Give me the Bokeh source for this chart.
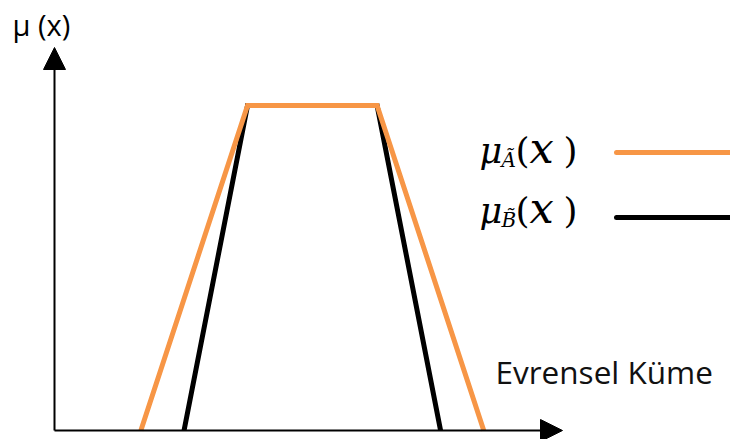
from bokeh.plotting import figure
from bokeh.models import Range1d, Arrow, NormalHead
from bokeh.core.properties import value
from bokeh.embed import file_html
from bokeh.resources import INLINE

# Trapezoidal membership functions on the universal set
universe_a = [1.7, 3.8, 6.35, 8.45]
mu_a = [0.0, 1.0, 1.0, 0.0]
universe_b = [2.55, 3.8, 6.35, 7.6]
mu_b = [0.0, 1.0, 1.0, 0.0]

ORANGE = "#F79646"
W, H = 730, 439

# page layout: origin pixel and pixels per unit on each axis
X0_PX, UNIT_PX = 54, 50.8
Y0_PX, MU_PX = 430, 325


def fx(px):
    return (px - X0_PX) / UNIT_PX


def fy(py):
    return (Y0_PX - py) / MU_PX


p = figure(width=W, height=H, output_backend="svg", toolbar_location=None,
           x_range=Range1d(fx(0), fx(W)), y_range=Range1d(fy(H), fy(0)),
           min_border=0)
p.axis.visible = False
p.grid.visible = False
p.outline_line_color = None
p.background_fill_color = "white"
p.border_fill_color = "white"

# axes with arrow heads
p.add_layout(Arrow(x_start=0, y_start=0, x_end=fx(562), y_end=0,
                   line_width=2, line_color="black",
                   end=NormalHead(size=22, fill_color="black", line_color="black")))
p.add_layout(Arrow(x_start=0, y_start=0, x_end=0, y_end=fy(47),
                   line_width=2, line_color="black",
                   end=NormalHead(size=22, fill_color="black", line_color="black")))

# membership functions
p.line(universe_b, mu_b, line_color="black", line_width=5, line_join="miter")
p.line(universe_a, mu_a, line_color=ORANGE, line_width=5, line_join="miter")

SANS = "Open Sans"
SERIF = "DejaVu Serif"


def put_text(px, base_py, txt, font, size, style="normal", color="black"):
    # texts are anchored at the middle of the em box; shift so the
    # baseline lands on base_py
    mid_py = base_py - 0.37 * size
    p.text(x=[fx(px)], y=[fy(mid_py)], text=[txt], text_font=value(font),
           text_font_size=value(f"{size}px"), text_font_style=style,
           text_color=color, text_align="left", text_baseline="middle")


put_text(12, 35, "μ (x)", SANS, 29)
put_text(495, 383, "Evrensel Küme", SANS, 31.5, color="#111111")


def legend_entry(base_py, line_py, letter, color):
    put_text(479, base_py, "μ", SERIF, 35, "italic")
    put_text(501, base_py + 4, letter, SERIF, 20, "italic")
    put_text(515, base_py, "(", SERIF, 36)
    put_text(529, base_py, "x", SERIF, 43, "italic")
    put_text(563, base_py, ")", SERIF, 36)
    p.add_layout(Arrow(x_start=fx(616), y_start=fy(line_py),
                       x_end=fx(W + 5), y_end=fy(line_py),
                       line_width=5, line_color=color, line_cap="round", end=None))


legend_entry(163, 152, "Ã", ORANGE)
legend_entry(223, 217, "B̃", "black")

open("out.html", "w").write(file_html(p, INLINE))
